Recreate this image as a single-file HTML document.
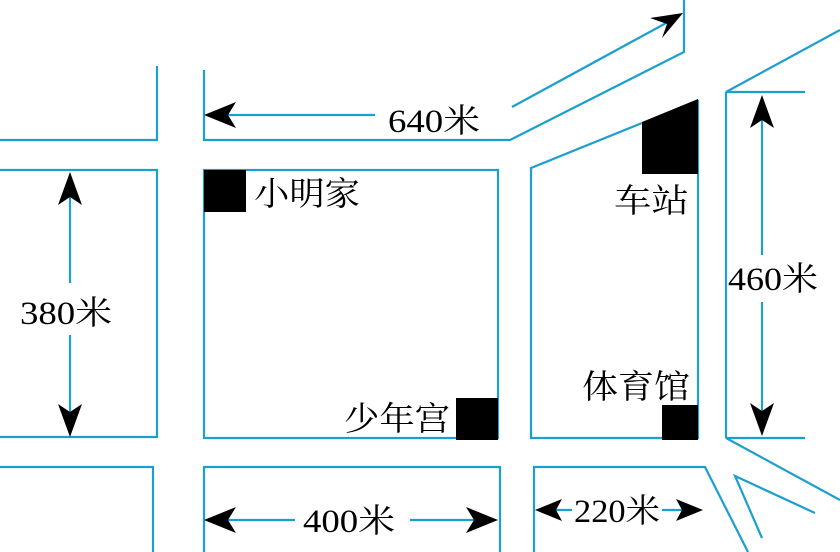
<!DOCTYPE html>
<html><head><meta charset="utf-8"><style>
html,body{margin:0;padding:0;background:#fff}
svg{display:block}
text{font-family:"Liberation Serif","Noto Serif CJK SC",serif;font-size:33px;fill:#000}
</style></head><body>
<svg width="840" height="552" viewBox="0 0 840 552" xmlns="http://www.w3.org/2000/svg">
<g fill="none" stroke="#1a9fd0" stroke-width="2.2">
<polyline points="157,66 157,140 0,140"/>
<polyline points="0,170 157,170 157,437 0,437"/>
<polyline points="0,467 153,467 153,552"/>
<polyline points="204,70 204,140 510,140 684,52 684,0"/>
<line x1="512" y1="107" x2="668" y2="22"/>
<rect x="204" y="170" width="294" height="268"/>
<polyline points="642,123 531,168 531,438 698,438 698,100"/>
<polyline points="840,30 726,92 805,92"/>
<line x1="726" y1="92" x2="726" y2="438"/>
<polyline points="805,438 726,438 840,500"/>
<polyline points="204,552 204,467 500,467 500,552"/>
<polyline points="534,552 534,467 705,467 748,552"/>
<polyline points="762,538 735,476 815,513"/>
<line x1="222" y1="115" x2="375" y2="115"/>
<line x1="70" y1="190" x2="70" y2="283"/>
<line x1="70" y1="335" x2="70" y2="420"/>
<line x1="222" y1="520" x2="295" y2="520"/>
<line x1="410" y1="520" x2="482" y2="520"/>
<line x1="550" y1="510" x2="572" y2="510"/>
<line x1="662" y1="510" x2="688" y2="510"/>
<line x1="762" y1="112" x2="762" y2="255"/>
<line x1="762" y1="302" x2="762" y2="420"/>
</g>
<g fill="#000">
<polygon points="642,122 698,99 698,174 642,174"/>
<rect x="204" y="170" width="42" height="42"/>
<rect x="456" y="398" width="42" height="42"/>
<rect x="662" y="405" width="36" height="35"/>
<polygon points="683,13 662,38 667,24 650,18"/>
<polygon points="204,115 236,102 228,115 236,128"/>
<polygon points="70,172 58,205 70,197 82,205"/>
<polygon points="70,437 58,404 70,412 82,404"/>
<polygon points="204,520 236,507 228,520 236,533"/>
<polygon points="498,520 466,507 474,520 466,533"/>
<polygon points="535,510 562,499 556,510 562,521"/>
<polygon points="703,510 676,499 682,510 676,521"/>
<polygon points="762,95 750,128 762,120 774,128"/>
<polygon points="762,436 750,403 762,411 774,403"/>
</g>
<text x="388" y="132" textLength="92" lengthAdjust="spacingAndGlyphs">640米</text>
<text x="20" y="324" textLength="92" lengthAdjust="spacingAndGlyphs">380米</text>
<text x="303" y="532" textLength="92" lengthAdjust="spacingAndGlyphs">400米</text>
<text x="574" y="522" textLength="86" lengthAdjust="spacingAndGlyphs">220米</text>
<text x="728" y="290" textLength="90" lengthAdjust="spacingAndGlyphs">460米</text>
<text x="254" y="205" textLength="106" lengthAdjust="spacingAndGlyphs">小明家</text>
<text x="614" y="212" textLength="75" lengthAdjust="spacingAndGlyphs">车站</text>
<text x="344" y="430" textLength="106" lengthAdjust="spacingAndGlyphs">少年宫</text>
<text x="582" y="398" textLength="108" lengthAdjust="spacingAndGlyphs">体育馆</text>
</svg>
</body></html>
